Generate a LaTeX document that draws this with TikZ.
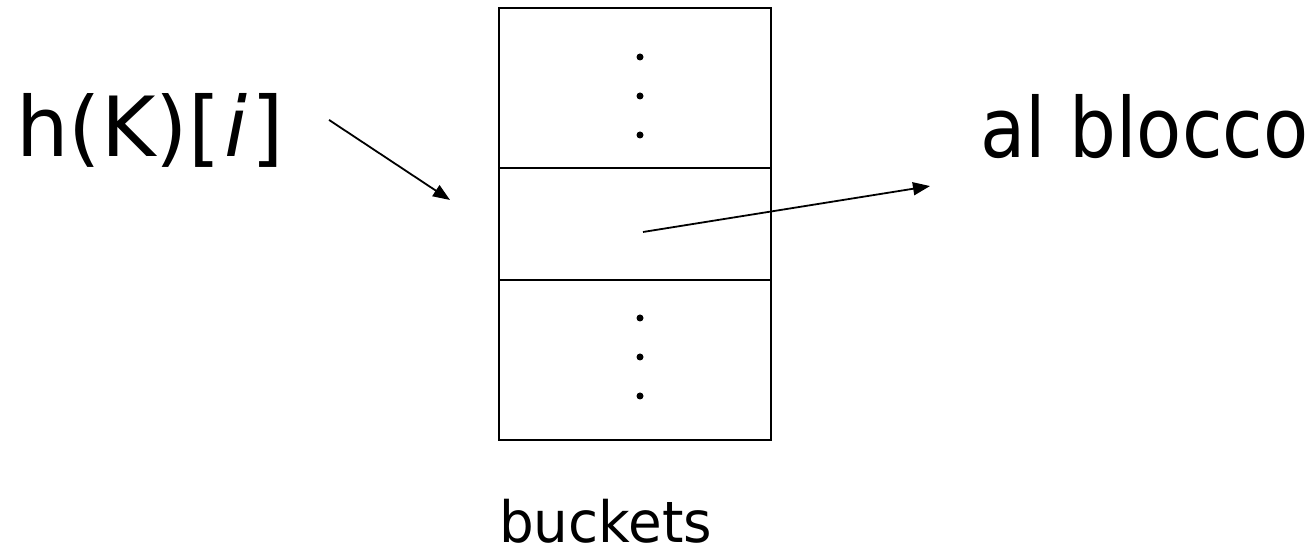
\documentclass[tikz,border=0pt]{standalone}
\usepackage{fontspec}
\setmainfont{DejaVu Sans}
\usepackage{graphicx}
\usetikzlibrary{positioning}
\usetikzlibrary{arrows.meta}
\usetikzlibrary{calc}

\begin{document}
\begin{tikzpicture}[x=1pt,y=1pt]
	\tikzset{
		cellnode/.style={rectangle, draw=black, line width=2pt, minimum width=272pt, inner sep=0pt, outer sep=0pt},
		labelnode/.style={inner sep=0pt, anchor=base west, font=\fontsize{83}{90}\selectfont},
		arrowline/.style={-{Triangle[length=17pt,width=13pt]}, line width=1.8pt},
		dotnode/.style={circle, fill=black, inner sep=0pt, minimum size=7pt},
	}
	\useasboundingbox (0,0) rectangle (1314,553);

	% the bucket column
	\node[cellnode, minimum height=160pt, anchor=north west] (top) at (499,545) {};
	\node[cellnode, minimum height=112pt, below = 0pt of top] (mid) {};
	\node[cellnode, minimum height=160pt, below = 0pt of mid] (bot) {};

	\foreach \d in {49,88,127}
		\node[dotnode] (tdot\d) at ($(top.north)+(5,-\d)$) {};
	\foreach \d in {38,77,116}
		\node[dotnode] (bdot\d) at ($(bot.north)+(5,-\d)$) {};

	% labels
	\node[labelnode] (hk) at (16,396) {h(K)[\kern4pt\textit{i}\kern4pt]};
	\node[labelnode] (blocco) at (980,395) {\scalebox{0.89}[1]{al blocco}};
	\node[labelnode, font=\fontsize{57}{64}\selectfont] (buckets) at (499,10) {\scalebox{0.96}[1]{buckets}};

	% pointers
	\coordinate (hkstart) at ($(hk.east)+(45,11)$);
	\coordinate (midin) at ($(mid.west)+(-49,24)$);
	\coordinate (ptr) at ($(mid.center)+(8,-8)$);
	\coordinate (bloccoin) at ($(blocco.west)+(-50,-59)$);
	\draw[arrowline] (hkstart) -- (midin);
	\draw[arrowline] (ptr) -- (bloccoin);
\end{tikzpicture}
\end{document}
